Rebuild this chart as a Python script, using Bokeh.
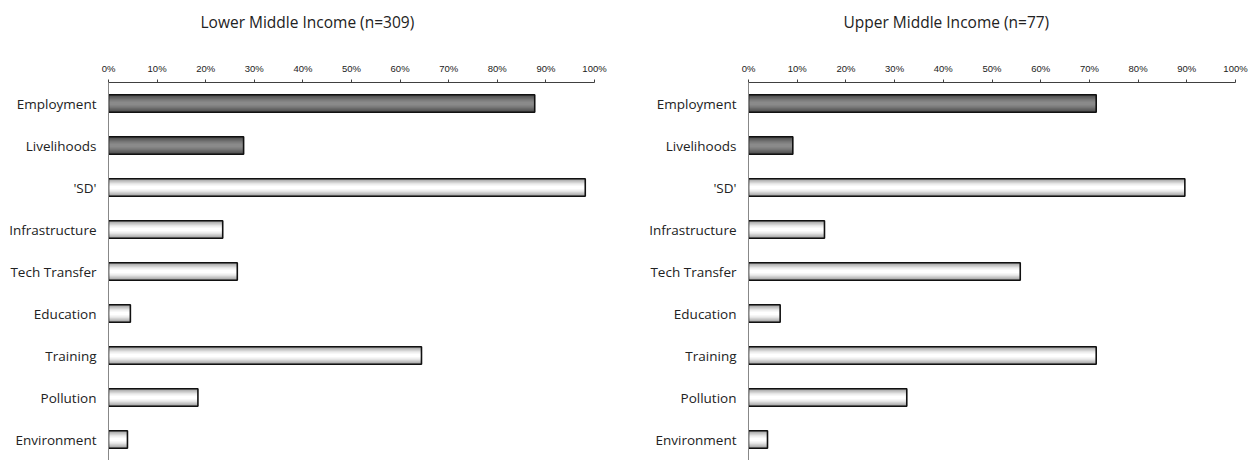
from bokeh.plotting import figure
from bokeh.models import FactorRange, Range1d, FixedTicker, ColumnDataSource, Title
from bokeh.layouts import row
from bokeh.embed import file_html
from bokeh.resources import INLINE

# ---- data ----
categories = ["Employment", "Livelihoods", "'SD'", "Infrastructure", "Tech Transfer",
              "Education", "Training", "Pollution", "Environment"]
lower_middle = [87.7, 27.8, 98.1, 23.5, 26.5, 4.5, 64.4, 18.4, 3.9]
upper_middle = [71.4, 9.1, 89.6, 15.6, 55.8, 6.5, 71.4, 32.5, 3.9]
shade = ["dark", "dark", "light", "light", "light", "light", "light", "light", "light"]
tick_values = [0, 10, 20, 30, 40, 50, 60, 70, 80, 90, 100]
tick_labels = ["0%", "10%", "20%", "30%", "40%", "50%", "60%", "70%", "80%", "90%", "100%"]
titles = ["Lower Middle Income (n=309)", "Upper Middle Income (n=77)"]

# ---- styling ----
FIG_H = 460
TOP = 80
BAR_H = 0.42
# (height fraction, dark colour, light colour) — layered to imitate a vertical gradient
LAYERS = [
    (1.00, "#4a4a4a", "#9c9c9c"),
    (0.86, "#575757", "#b4b4b4"),
    (0.72, "#646464", "#cacaca"),
    (0.58, "#707070", "#dcdcdc"),
    (0.44, "#7b7b7b", "#ececec"),
    (0.30, "#848484", "#f7f7f7"),
    (0.16, "#8a8a8a", "#ffffff"),
]
LABEL_FONT = "Open Sans"


def make_panel(title, values, width, left_border, right_border, title_offset):
    data = dict(cat=categories, val=values)
    for k, (_, dc, lc) in enumerate(LAYERS):
        data[f"c{k}"] = [dc if s == "dark" else lc for s in shade]
    src = ColumnDataSource(data)

    p = figure(width=width, height=FIG_H, output_backend="svg", toolbar_location=None,
               y_range=FactorRange(factors=list(reversed(categories))),
               x_range=Range1d(0, 100), x_axis_location="above",
               min_border_top=TOP, min_border_bottom=0,
               min_border_left=left_border, min_border_right=right_border)

    for k, (frac, _, _) in enumerate(LAYERS):
        p.hbar(y="cat", left=0, right="val", height=BAR_H * frac, source=src,
               fill_color=f"c{k}", line_color=None)
    p.hbar(y="cat", left=0, right="val", height=BAR_H, source=src,
           fill_color=None, line_color="#111111", line_width=1.6)

    # blank spacer between the top axis and the chart title
    p.add_layout(Title(text=" ", standoff=8, text_font_size="8px"), "above")
    p.add_layout(Title(text=title, align="left", offset=title_offset, standoff=16,
                       text_font=LABEL_FONT, text_font_size="15.5px",
                       text_font_style="normal", text_color="#222222"), "above")

    p.xgrid.visible = False
    p.ygrid.visible = False
    p.outline_line_color = None
    p.background_fill_color = "white"
    p.border_fill_color = "white"

    xa = p.xaxis[0]
    xa.ticker = FixedTicker(ticks=tick_values)
    xa.major_label_overrides = {v: t for v, t in zip(tick_values, tick_labels)}
    xa.major_tick_out = 3
    xa.major_tick_in = 0
    xa.minor_tick_line_color = None
    xa.axis_line_color = "#404040"
    xa.major_tick_line_color = "#404040"
    xa.major_label_text_font = "Liberation Sans"
    xa.major_label_text_font_size = "9.5px"
    xa.major_label_text_color = "#222222"
    xa.major_label_standoff = 6

    ya = p.yaxis[0]
    ya.major_tick_line_color = None
    ya.minor_tick_line_color = None
    ya.axis_line_color = "#888888"
    ya.major_label_text_font = LABEL_FONT
    ya.major_label_text_font_size = "13.5px"
    ya.major_label_text_color = "#222222"
    ya.major_label_standoff = 6
    return p


p1 = make_panel(titles[0], lower_middle, 628, 108, 34, 92)
p2 = make_panel(titles[1], upper_middle, 620, 120, 13, 95)
layout = row(p1, p2)

open("out.html", "w").write(file_html(layout, INLINE))
